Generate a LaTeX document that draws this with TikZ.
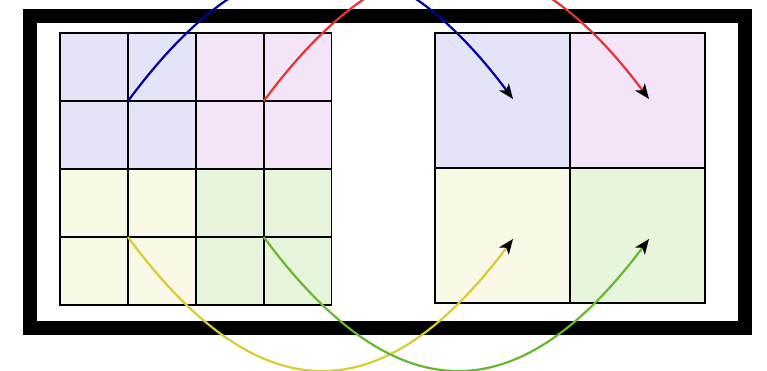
\documentclass[tikz,border=0pt]{standalone}
\usetikzlibrary{arrows.meta}
\definecolor{fblue}{HTML}{E3E4F8}
\definecolor{fpink}{HTML}{F3E4F7}
\definecolor{fyellow}{HTML}{FAF9E7}
\definecolor{fgreen}{HTML}{E6F5DC}
\definecolor{lblue}{HTML}{00009E}
\definecolor{lred}{HTML}{E63333}
\definecolor{lyellow}{HTML}{D9CC33}
\definecolor{lgreen}{HTML}{66B82E}
\tikzset{
  smallcell/.style={draw=black, line width=1.7pt, minimum size=67.9pt, inner sep=0pt, outer sep=0pt, anchor=north west},
  bigcell/.style={draw=black, line width=1.7pt, minimum size=135pt, inner sep=0pt, outer sep=0pt, anchor=north west},
  frame/.style={draw=black, line width=14pt},
  link/.style={line width=2.2pt, -{Stealth[black,length=15pt,width=12pt,inset=4pt]}},
}
\begin{document}
\begin{tikzpicture}[x=1pt,y=-1pt]
\useasboundingbox (0,0) rectangle (767,370);
\draw[frame] (29.7,15.5) rectangle (745.3,328.3);
% left grid 4x4
\foreach \r in {0,1,2,3}{
  \foreach \c in {0,1,2,3}{
    \ifnum\r<2
      \ifnum\c<2 \def\fc{fblue}\else\def\fc{fpink}\fi
    \else
      \ifnum\c<2 \def\fc{fyellow}\else\def\fc{fgreen}\fi
    \fi
    \node[smallcell, fill=\fc] (s\r\c) at ({60+67.9*\c},{33.3+67.9*\r}) {};
  }
}
% right grid 2x2
\node[bigcell, fill=fblue] (b00) at (435,33.3) {};
\node[bigcell, fill=fpink] (b01) at (570,33.3) {};
\node[bigcell, fill=fyellow] (b10) at (435,168.3) {};
\node[bigcell, fill=fgreen] (b11) at (570,168.3) {};
% endpoints
\coordinate (tb) at (513,99);
\coordinate (tr) at (649,99);
\coordinate (ty) at (513,239);
\coordinate (tg) at (649,239);
\draw[link, lblue] (s11.north west) .. controls (258,-75) and (381,-77) .. (tb);
\draw[link, lred] (s13.north west) .. controls (394,-75) and (517,-77) .. (tr);
\draw[link, lyellow] (s31.north west) .. controls (258,413) and (381,415) .. (ty);
\draw[link, lgreen] (s33.north west) .. controls (394,413) and (517,415) .. (tg);
\end{tikzpicture}
\end{document}
